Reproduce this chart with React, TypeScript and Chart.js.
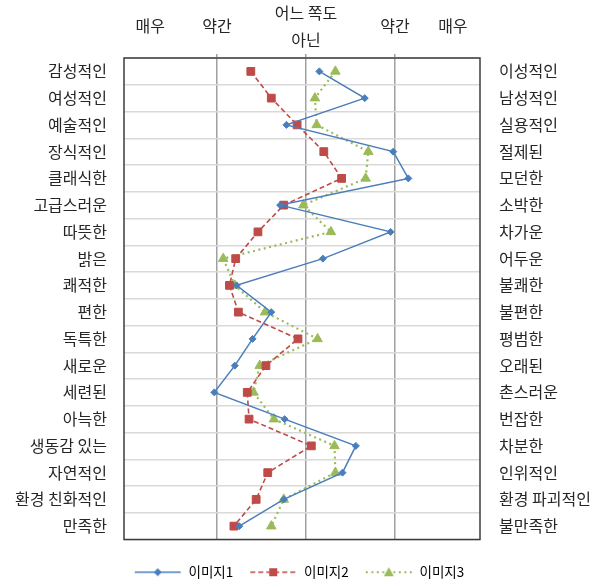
import { useEffect, useRef } from 'react';
import { Chart, registerables } from 'chart.js';

Chart.register(...registerables);

const leftLabels = ['감성적인', '여성적인', '예술적인', '장식적인', '클래식한', '고급스러운', '따뜻한', '밝은', '쾌적한', '편한', '독특한', '새로운', '세련된', '아늑한', '생동감 있는', '자연적인', '환경 친화적인', '만족한'];
const rightLabels = ['이성적인', '남성적인', '실용적인', '절제된', '모던한', '소박한', '차가운', '어두운', '불쾌한', '불편한', '평범한', '오래된', '촌스러운', '번잡한', '차분한', '인위적인', '환경 파괴적인', '불만족한'];
const scaleTickValues = [1.25, 2, 3, 4, 4.65];
const scaleTickLabels: (string | string[])[] = ['매우', '약간', ['어느 쪽도', '아닌'], '약간', '매우'];
const gridValues = [2, 3, 4];
const seriesNames = ['이미지1', '이미지2', '이미지3'];
const image1 = [3.15, 3.66, 2.78, 3.98, 4.15, 2.71, 3.95, 3.19, 2.22, 2.61, 2.40, 2.20, 1.97, 2.76, 3.56, 3.41, 2.75, 2.25];
const image2 = [2.38, 2.61, 2.90, 3.20, 3.40, 2.75, 2.46, 2.21, 2.14, 2.24, 2.91, 2.55, 2.34, 2.36, 3.06, 2.57, 2.44, 2.19];
const image3 = [3.33, 3.10, 3.12, 3.70, 3.67, 2.97, 3.28, 2.07, 2.20, 2.54, 3.13, 2.48, 2.41, 2.64, 3.32, 3.33, 2.75, 2.61];

const FONT = '"Noto Sans CJK KR", "Noto Sans", sans-serif';
const TEXT = '#262626';

type Style = { color: string; dash: number[]; width: number; marker: 'diamond' | 'square' | 'triangle' };
const styles: Style[] = [
  { color: '#4A7EBB', dash: [], width: 1.5, marker: 'diamond' },
  { color: '#BE4B48', dash: [5, 3], width: 1.6, marker: 'square' },
  { color: '#9BBB59', dash: [2, 3.5], width: 2.2, marker: 'triangle' },
];

function makeSample(s: Style): HTMLCanvasElement {
  const c = document.createElement('canvas');
  c.width = 48;
  c.height = 14;
  const g = c.getContext('2d')!;
  g.strokeStyle = s.color;
  g.fillStyle = s.color;
  g.lineWidth = s.width;
  g.setLineDash(s.dash);
  g.beginPath();
  g.moveTo(1, 7);
  g.lineTo(47, 7);
  g.stroke();
  g.setLineDash([]);
  g.beginPath();
  if (s.marker === 'diamond') {
    g.moveTo(24, 3); g.lineTo(28, 7); g.lineTo(24, 11); g.lineTo(20, 7);
  } else if (s.marker === 'square') {
    g.rect(20, 3, 8, 8);
  } else {
    g.moveTo(24, 2); g.lineTo(29, 11); g.lineTo(19, 11);
  }
  g.closePath();
  g.fill();
  return c;
}

const framePlugin = {
  id: 'frame',
  beforeDatasetsDraw(chart: any) {
    const { ctx, chartArea } = chart;
    const { left, top, right, bottom } = chartArea;
    ctx.save();
    ctx.strokeStyle = '#3c3c3c';
    ctx.lineWidth = 1.5;
    ctx.strokeRect(left, top, right - left, bottom - top);
    ctx.restore();
  },
};

export default function App() {
  const ref = useRef<HTMLCanvasElement>(null);

  useEffect(() => {
    if (!ref.current) return;
    const samples = styles.map(makeSample);
    const series = [image1, image2, image3];
    const pointStyles = ['rectRot', 'rect', 'triangle'];
    const radii = [3.5, 5.5, 5.5];

    const chart = new Chart(ref.current, {
      type: 'line',
      data: {
        labels: leftLabels,
        datasets: series.map((d, i) => ({
          label: seriesNames[i],
          data: d,
          borderColor: styles[i].color,
          backgroundColor: styles[i].color,
          borderWidth: styles[i].width,
          borderDash: styles[i].dash,
          pointStyle: pointStyles[i] as any,
          pointRadius: radii[i],
          pointBackgroundColor: styles[i].color,
          pointBorderColor: styles[i].color,
          pointBorderWidth: 1,
          tension: 0,
          fill: false,
          xAxisID: 'x',
          yAxisID: 'y',
        })),
      },
      options: {
        indexAxis: 'y',
        animation: false,
        responsive: true,
        maintainAspectRatio: false,
        layout: { padding: { left: 0, right: 0, top: 0, bottom: -6 } },
        plugins: {
          tooltip: { enabled: false },
          legend: {
            position: 'bottom',
            labels: {
              usePointStyle: true,
              pointStyleWidth: 48,
              padding: 16,
              color: TEXT,
              font: { family: FONT, size: 13.5 },
              generateLabels: () =>
                seriesNames.map((n, i) => ({
                  text: n,
                  pointStyle: samples[i] as any,
                  fillStyle: styles[i].color,
                  strokeStyle: styles[i].color,
                  lineWidth: 0,
                  datasetIndex: i,
                  hidden: false,
                })),
            },
          },
        },
        scales: {
          x: {
            type: 'linear',
            position: 'top',
            min: 0.955,
            max: 4.955,
            afterBuildTicks: (s: any) => {
              s.ticks = scaleTickValues.map((v) => ({ value: v }));
            },
            afterFit: (s: any) => {
              s.height = 58;
            },
            ticks: {
              autoSkip: false,
              maxRotation: 0,
              padding: 14,
              crossAlign: 'center',
              color: TEXT,
              font: { family: FONT, size: 16, lineHeight: 1.7 },
              callback: (_v: any, i: number) => scaleTickLabels[i] as any,
            },
            grid: {
              tickLength: 4,
              lineWidth: 1.5,
              color: (c: any) => (c.tick && gridValues.includes(c.tick.value) ? '#a0a0a0' : 'rgba(0,0,0,0)'),
            },
            border: { display: false },
          },
          xb: {
            type: 'linear',
            position: 'bottom',
            display: true,
            afterFit: (s: any) => {
              s.height = 10;
            },
            ticks: { display: false },
            grid: { display: false, drawTicks: false },
            border: { display: false },
          },
          y: {
            type: 'category',
            position: 'left',
            offset: true,
            afterFit: (s: any) => {
              s.width = 124;
            },
            ticks: {
              autoSkip: false,
              padding: 17,
              color: TEXT,
              font: { family: FONT, size: 16 },
            },
            grid: { offset: true, drawTicks: false, color: '#d9d9d9', lineWidth: 1.5 },
            border: { display: false },
          },
          y2: {
            type: 'category',
            position: 'right',
            labels: rightLabels,
            offset: true,
            afterFit: (s: any) => {
              s.width = 118;
            },
            ticks: {
              autoSkip: false,
              padding: 19,
              color: TEXT,
              font: { family: FONT, size: 16 },
            },
            grid: { display: false, drawTicks: false },
            border: { display: false },
          },
        },
      } as any,
      plugins: [framePlugin],
    });
    return () => chart.destroy();
  }, []);

  return (
    <div style={{ position: 'fixed', left: 0, top: 0, width: 598, height: 583, background: '#fff' }}>
      <canvas ref={ref} style={{ display: 'block' }} />
    </div>
  );
}
